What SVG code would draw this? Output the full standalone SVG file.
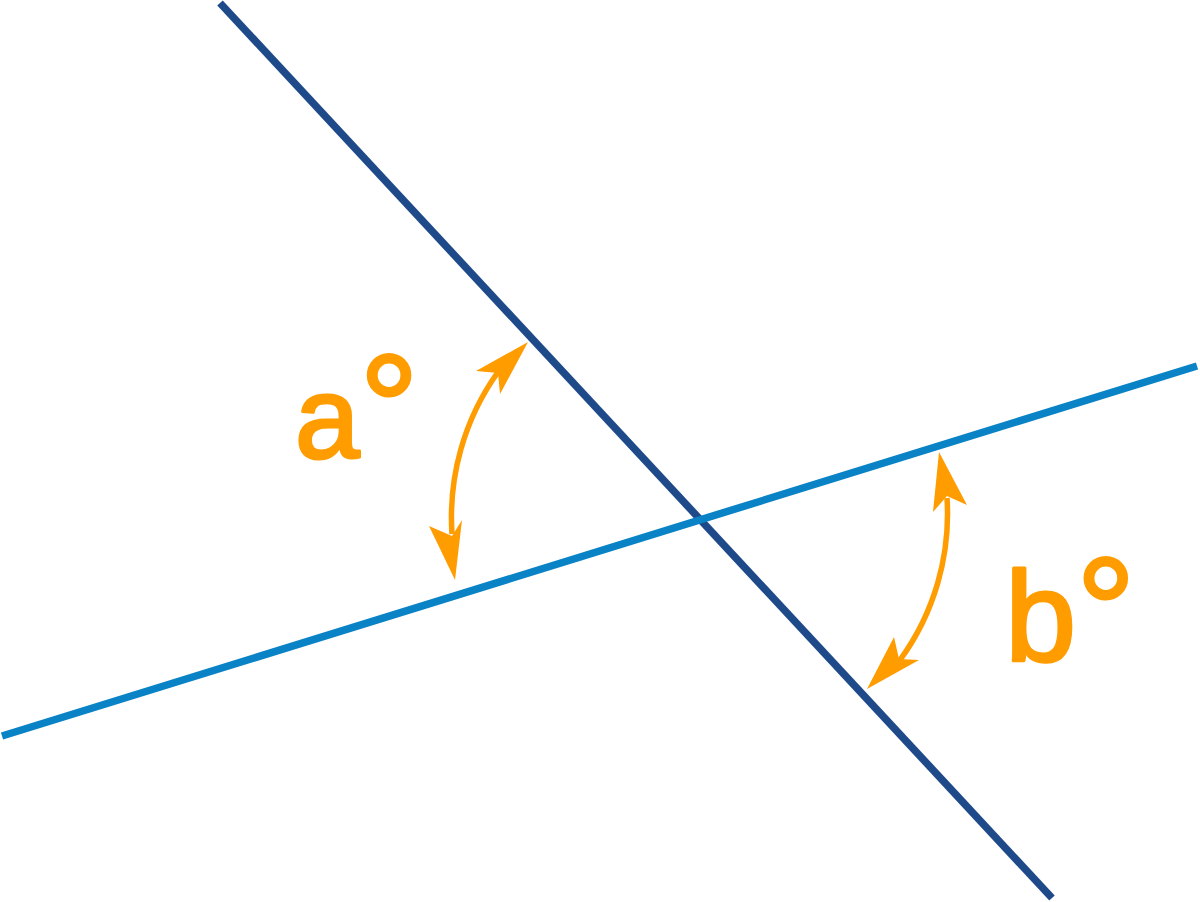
<svg xmlns="http://www.w3.org/2000/svg" width="1200" height="902" viewBox="0 0 1200 902">
<style>
.line{fill:none;stroke-width:7.5}
.dark{stroke:#1F4A8A}
.light{stroke:#0A83C6}
.arc{fill:none;stroke:#FF9C00;stroke-width:5.5}
.head{fill:#FF9C00}
.lbl{font-family:"Liberation Sans",Arial,sans-serif;fill:#FF9C00;stroke:#FF9C00;stroke-width:3;stroke-linejoin:round}
</style>
<rect width="1200" height="902" fill="#ffffff"/>
<g id="lines">
<line id="line-dark" class="line dark" x1="220" y1="3" x2="1052" y2="898"/>
<line id="line-light" class="line light" x1="2" y1="736" x2="1197" y2="366"/>
</g>
<g id="angle-a">
<path class="arc" d="M498,372 A250,250 0 0,0 452,534"/>
<polygon class="head" points="528,342 476,371 498,373 500,394"/>
<polygon class="head" points="455,580 429,526 452,536 462,520"/>
<text class="lbl" x="295" y="458" font-size="116">a<tspan font-size="148">°</tspan></text>
</g>
<g id="angle-b">
<path class="arc" d="M947,498 A248,248 0 0,1 900,660"/>
<polygon class="head" points="939,452 967,505 947,496 933,512"/>
<polygon class="head" points="867,689 894,637 899,659 919,660"/>
<text class="lbl" x="1005" y="661" font-size="128">b<tspan font-size="148">°</tspan></text>
</g>
</svg>
